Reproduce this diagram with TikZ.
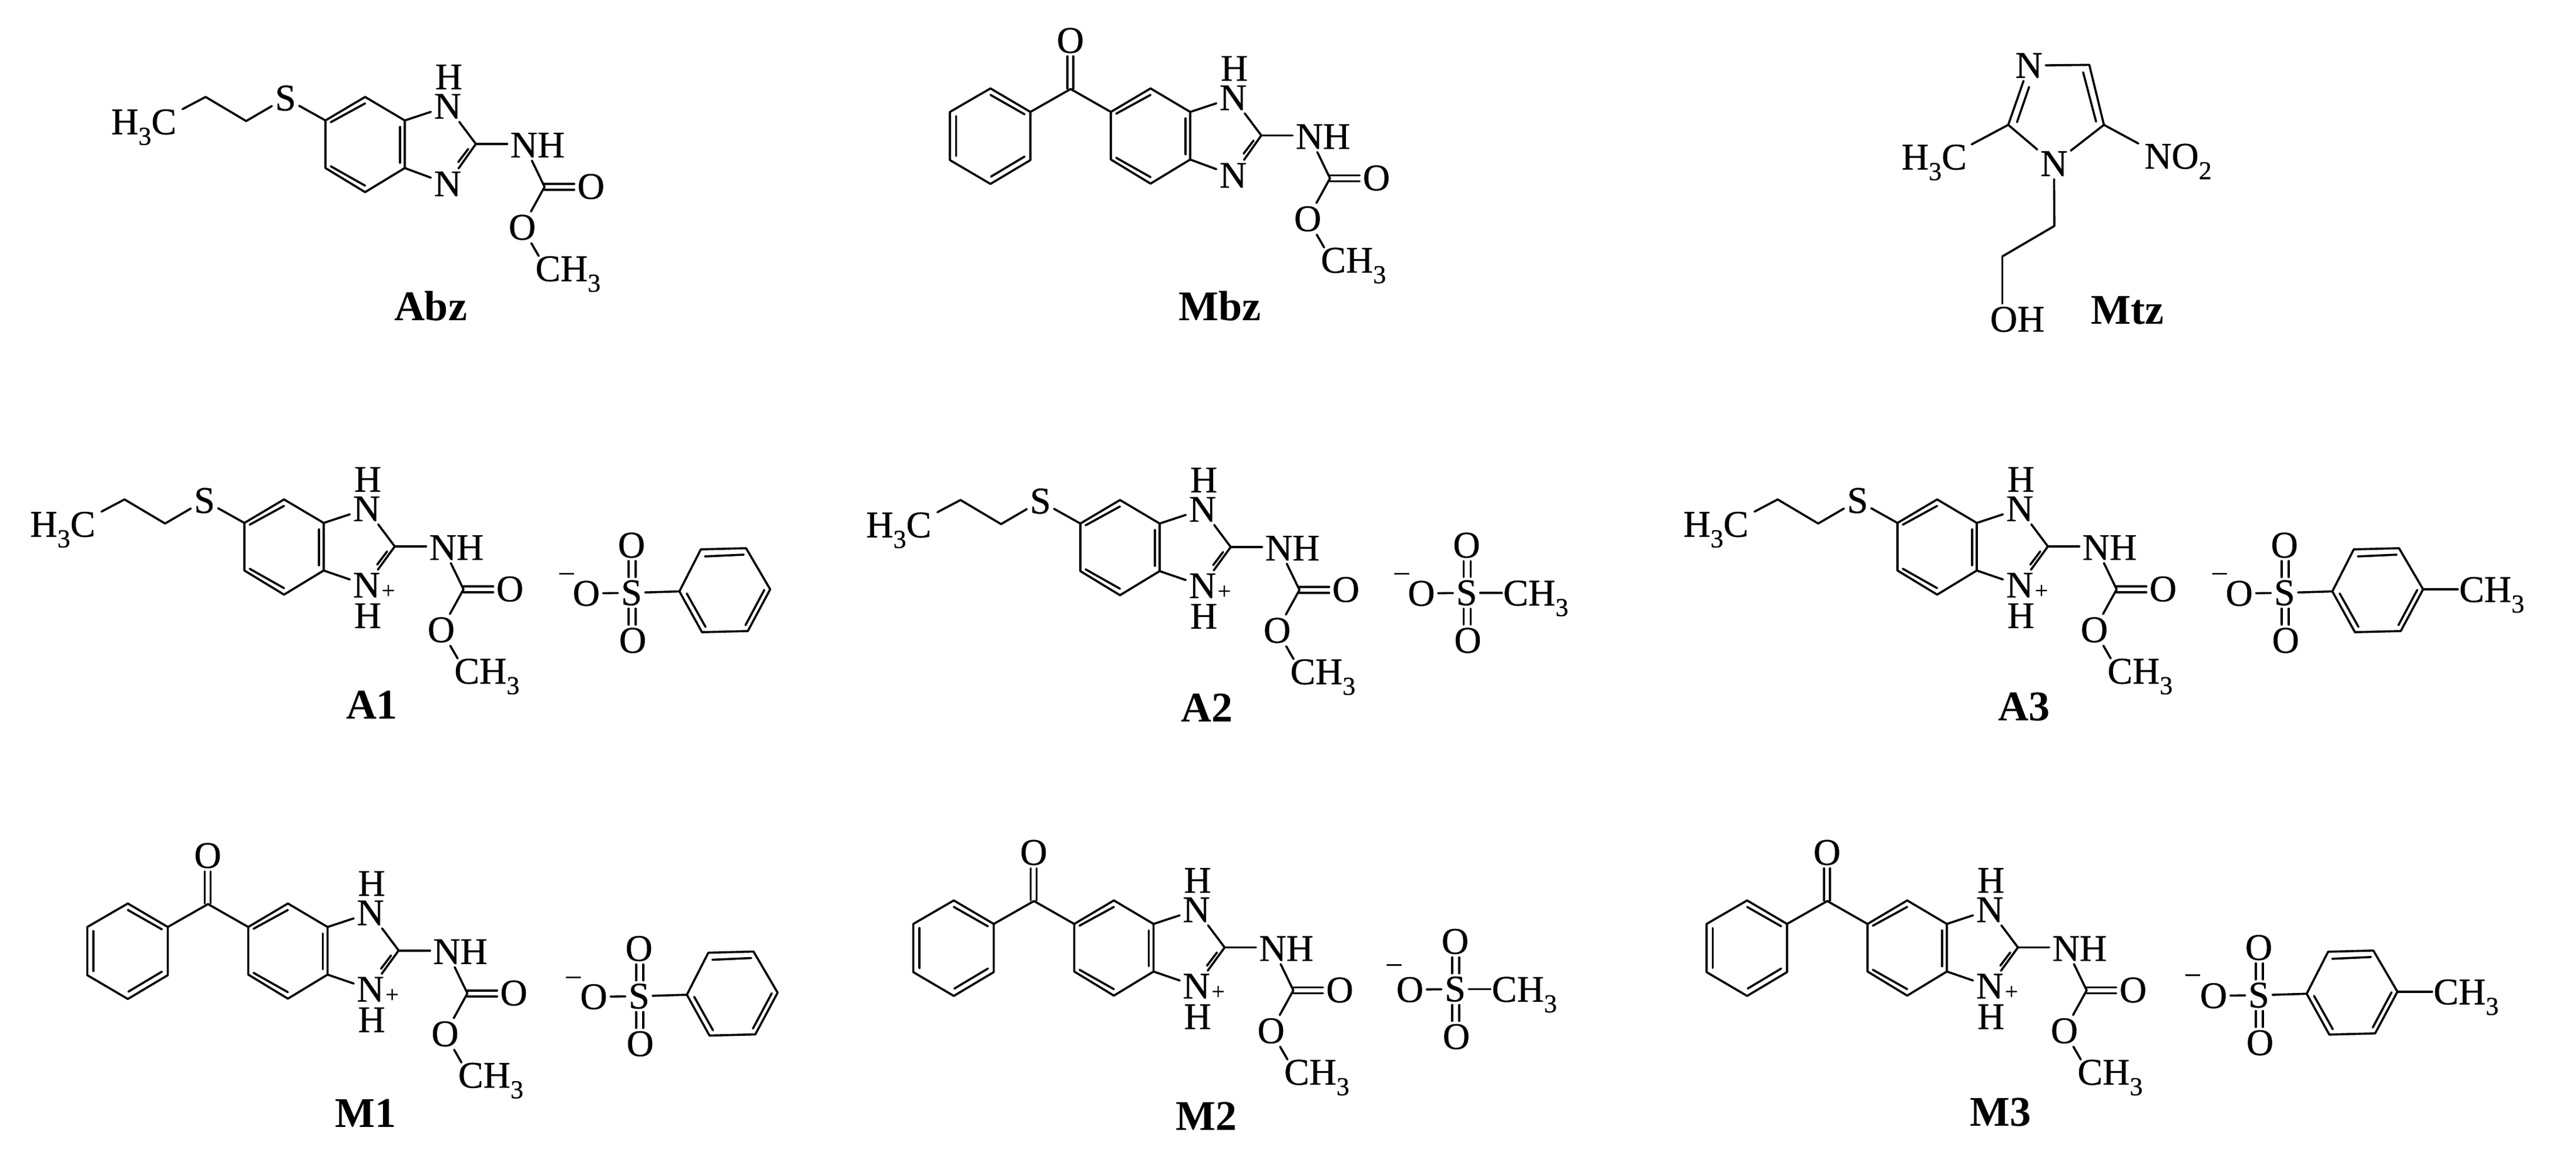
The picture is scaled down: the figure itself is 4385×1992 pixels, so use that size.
\documentclass[tikz,border=0pt]{standalone}
\usepackage{fontspec}
\setmainfont{Liberation Serif}
\newfontfamily\atomface[FakeBold=0.6]{Liberation Serif}
\newcommand{\atomfs}{\atomface\fontsize{32}{32}\selectfont}
\newcommand{\labfs}{\fontsize{36}{36}\selectfont\bfseries}
\newcommand{\subn}[1]{\raisebox{-9pt}{\fontsize{22}{22}\selectfont #1}}
\tikzset{
  atomn/.style={font=\atomfs,inner sep=2.5pt,text=black},
  grp/.style={font=\atomfs,inner sep=0pt,anchor=base west,text=black},
  lab/.style={font=\labfs,inner sep=0pt,anchor=base,text=black},
  chg/.style={inner sep=0pt,text=black},
  bondl/.style={draw=black,line width=1.8pt,line cap=round,line join=round}
}
% benzimidazole core with carbamate; #1 = y of lower N, #2 = extras
\newcommand{\core}[2]{%
  \coordinate (ul) at (0,0);\coordinate (t) at (67.5,-40);\coordinate (ur) at (135,0);
  \coordinate (lr) at (135,81);\coordinate (b) at (67.5,122);\coordinate (ll) at (0,81);
  \coordinate (i1) at (9,3);\coordinate (i2) at (67.5,-29);
  \coordinate (i3) at (127,11);\coordinate (i4) at (127,72);
  \coordinate (i5) at (9,78);\coordinate (i6) at (67.5,111);
  \coordinate (c2) at (256,40);\coordinate (i7) at (243,48.5);\coordinate (i8) at (226,71);
  \coordinate (cc) at (373,113);\coordinate (cc1) at (373,108);\coordinate (cc2) at (373,118);
  \node[atomn] (Nt) at (208,-24) {N};
  \node[atomn] (Ht) at (210,-74) {H};
  \node[atomn] (Nb) at (208,#1) {N};
  \node[atomn] (NH) at (361,42) {NH};
  \node[atomn] (Oa) at (452,112.5) {O};
  \node[atomn] (Ob) at (335,182) {O};
  \node[grp] (Me) at (357,273.5) {CH\subn{3}};
  #2
  \draw[bondl] (ul) -- (t) -- (ur) -- (lr) -- (b) -- (ll) -- cycle;
  \draw[bondl] (i1) -- (i2);\draw[bondl] (i3) -- (i4);\draw[bondl] (i5) -- (i6);
  \draw[bondl] (ur) -- (Nt);\draw[bondl] (lr) -- (Nb);
  \draw[bondl] (Nt) -- (c2);\draw[bondl] (c2) -- (Nb);\draw[bondl] (i7) -- (i8);
  \draw[bondl] (c2) -- (c2 -| NH.west);
  \draw[bondl] (NH.250) -- (cc);
  \draw[bondl] (cc1) -- (cc1 -| Oa.west);\draw[bondl] (cc2) -- (cc2 -| Oa.west);
  \draw[bondl] (cc) -- (Ob);
  \draw[bondl] (Ob) -- ([xshift=3pt]Me.north west);
}
\newcommand{\cationext}{%
  \node[chg,font=\atomface\fontsize{20}{20}\selectfont] (pl) at (245,117) {+};
  \node[atomn] (Hb) at (210,158) {H};
}
% propylthio substituent
\newcommand{\thio}{%
  \node[atomn] (Su) at (-68,-38) {S};
  \coordinate (s1) at (-135,1);\coordinate (s2) at (-204,-40);
  \node[grp] (hc) at (-365,23.5) {H\subn{3}C};
  \draw[bondl] (ul) -- (Su);\draw[bondl] (Su) -- (s1);\draw[bondl] (s1) -- (s2);
  \draw[bondl] (s2) -- ([xshift=5pt]hc.north east);
}
% benzoyl substituent
\newcommand{\benzoyl}{%
  \coordinate (ck) at (-68.5,-39);\coordinate (ck1) at (-74,-40);\coordinate (ck2) at (-64,-40);
  \node[atomn] (Ok) at (-69,-121.5) {O};
  \coordinate (p1) at (-137,0);\coordinate (p2) at (-205,-40);\coordinate (p3) at (-274,0);
  \coordinate (p4) at (-274,82);\coordinate (p5) at (-205,122.5);\coordinate (p6) at (-137,82);
  \coordinate (q1) at (-205,-29);\coordinate (q2) at (-147,4);
  \coordinate (q3) at (-263.5,7);\coordinate (q4) at (-263.5,75);
  \coordinate (q5) at (-204,110);\coordinate (q6) at (-147,76);
  \draw[bondl] (ul) -- (ck) -- (p1);
  \draw[bondl] (ck1) -- (ck1 |- Ok.south);\draw[bondl] (ck2) -- (ck2 |- Ok.south);
  \draw[bondl] (p1) -- (p2) -- (p3) -- (p4) -- (p5) -- (p6) -- cycle;
  \draw[bondl] (q1) -- (q2);\draw[bondl] (q3) -- (q4);\draw[bondl] (q5) -- (q6);
}
% sulfonate: #1 = minus x, #2 = minus y, #3 = rest
\newcommand{\sulfonate}[3]{%
  \node[atomn] (Sa) at (0,0) {S};
  \node[atomn] (Om) at (-77,1) {O};
  \node[atomn] (Ot) at (0,-81) {O};
  \node[atomn] (Ou) at (2,81) {O};
  \node[chg,font=\atomface\fontsize{24}{24}\selectfont] (mi) at (#1,#2) {–};
  \coordinate (sl) at (-5,0);\coordinate (sr) at (7,0);
  \draw[bondl] (Om) -- (Sa);
  \draw[bondl] (sl |- Sa.north) -- (sl |- Ot.south);\draw[bondl] (sr |- Sa.north) -- (sr |- Ot.south);
  \draw[bondl] (sl |- Sa.south) -- (sl |- Ou.north);\draw[bondl] (sr |- Sa.south) -- (sr |- Ou.north);
  #3
}
\newcommand{\phenring}{%
  \coordinate (r1) at (118,-74);\coordinate (r2) at (195,-76);\coordinate (r3) at (236,-6);
  \coordinate (r4) at (198,65);\coordinate (r5) at (120,67);\coordinate (r6) at (81.5,-2.5);
  \coordinate (u1) at (125,-62);\coordinate (u2) at (191,-65);
  \coordinate (u3) at (94,1);\coordinate (u4) at (126,58);
  \coordinate (u5) at (226,-5);\coordinate (u6) at (194,55);
  \draw[bondl] (r1) -- (r2) -- (r3) -- (r4) -- (r5) -- (r6) -- cycle;
  \draw[bondl] (u1) -- (u2);\draw[bondl] (u3) -- (u4);\draw[bondl] (u5) -- (u6);
  \draw[bondl] (Sa) -- (r6);
}
\newcommand{\mesyl}{%
  \node[grp] (Mm) at (62,21.5) {CH\subn{3}};
  \draw[bondl] (Sa.east) -- ([xshift=-1pt,yshift=10.75pt]Mm.base west);
}
\newcommand{\tosylme}{%
  \node[grp] (Mm) at (297,15.5) {CH\subn{3}};
  \draw[bondl] (r3) -- ([xshift=-1pt]r3 -| Mm.west);
}
\begin{document}
\begin{tikzpicture}[x=0.5pt,y=-0.5pt]
\useasboundingbox (0,0) rectangle (4385,1992);
% ---------- Row 1
\begin{scope}[shift={(554,205)},name prefix=abz-]
  \core{108}{}\thio
\end{scope}
\node[lab] (labAbz) at (733,545) {Abz};
\begin{scope}[shift={(1891,190.5)},name prefix=mbz-]
  \core{108}{}\benzoyl
\end{scope}
\node[lab] (labMbz) at (2076.5,545) {Mbz};
% Mtz
\node[atomn] (zN3) at (3453.7,111.4) {N};
\node[atomn] (zN1) at (3496.4,278.6) {N};
\node[grp] (zMe) at (3236.5,288.5) {H\subn{3}C};
\node[grp] (zNO) at (3650,287) {NO\subn{2}};
\node[atomn] (zOH) at (3434,543.6) {OH};
\coordinate (z4) at (3556.5,110.4);\coordinate (z5) at (3581.4,212.5);\coordinate (z2) at (3418.5,212.5);
\coordinate (z6) at (3497,384.6);\coordinate (z7) at (3408.5,436.4);
\coordinate (zi1) at (3546,123);\coordinate (zi2) at (3568,207);
\coordinate (zi3) at (3454,148);\coordinate (zi4) at (3433.4,208);
\draw[bondl] (zN3) -- (z4);\draw[bondl] (z4) -- (z5);\draw[bondl] (zi1) -- (zi2);
\draw[bondl] (z5) -- (zN1);\draw[bondl] (zN1) -- (z2);\draw[bondl] (z2) -- (zN3);\draw[bondl] (zi3) -- (zi4);
\draw[bondl] (z2) -- ([xshift=4pt]zMe.north east);
\draw[bondl] (z5) -- ([xshift=-5pt]zNO.north west);
\draw[bondl] (zN1) -- (z6);\draw[bondl] (z6) -- (z7);\draw[bondl] (z7) -- (z7 |- zOH.north);
\node[lab] (labMtz) at (3621.5,551) {Mtz};
% ---------- Row 2
\begin{scope}[shift={(416,890)},name prefix=a1-]
  \core{106}{\cationext}\thio
\end{scope}
\begin{scope}[shift={(1075,1009)},name prefix=a1s-]
  \sulfonate{-110.5}{-27.5}{\phenring}
\end{scope}
\node[lab] (labA1) at (633,1223) {A1};
\begin{scope}[shift={(1839,891)},name prefix=a2-]
  \core{106}{\cationext}\thio
\end{scope}
\begin{scope}[shift={(2496.5,1009)},name prefix=a2s-]
  \sulfonate{-110.5}{-27.5}{\mesyl}
\end{scope}
\node[lab] (labA2) at (2054,1228) {A2};
\begin{scope}[shift={(3230,890)},name prefix=a3-]
  \core{106}{\cationext}\thio
\end{scope}
\begin{scope}[shift={(3888.7,1009)},name prefix=a3s-]
  \sulfonate{-110.5}{-27.5}{\phenring\tosylme}
\end{scope}
\node[lab] (labA3) at (3445,1226) {A3};
% ---------- Row 3
\begin{scope}[shift={(422.6,1577.7)},name prefix=m1-]
  \core{106}{\cationext}\benzoyl
\end{scope}
\begin{scope}[shift={(1087.7,1695.5)},name prefix=m1s-]
  \sulfonate{-111.7}{-27}{\phenring}
\end{scope}
\node[lab] (labM1) at (622.5,1918) {M1};
\begin{scope}[shift={(1828.6,1572.5)},name prefix=m2-]
  \core{106}{\cationext}\benzoyl
\end{scope}
\begin{scope}[shift={(2477,1683.4)},name prefix=m2s-]
  \sulfonate{-104}{-36}{\mesyl}
\end{scope}
\node[lab] (labM2) at (2053,1923) {M2};
\begin{scope}[shift={(3179,1572.5)},name prefix=m3-]
  \core{106}{\cationext}\benzoyl
\end{scope}
\begin{scope}[shift={(3845,1693.8)},name prefix=m3s-]
  \sulfonate{-112.5}{-29}{\phenring\tosylme}
\end{scope}
\node[lab] (labM3) at (3405,1916) {M3};
\end{tikzpicture}
\end{document}
